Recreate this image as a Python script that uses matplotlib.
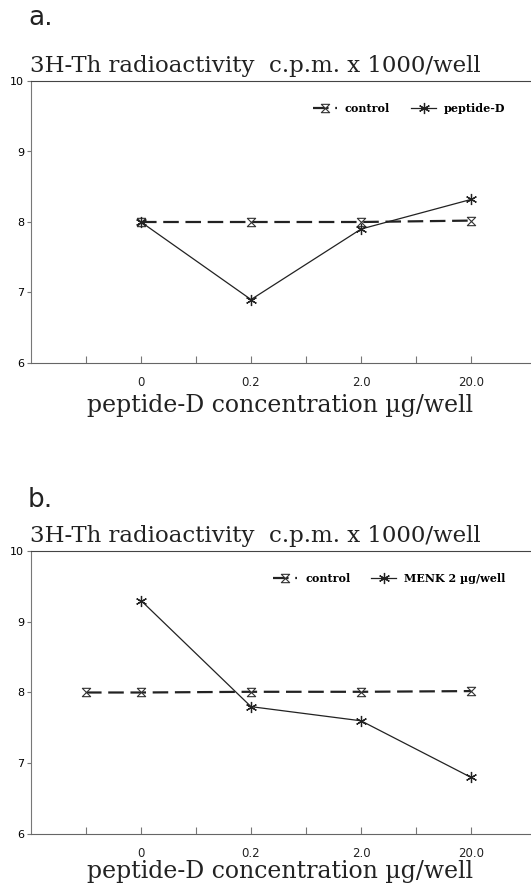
import matplotlib
matplotlib.use("Agg")
import matplotlib.pyplot as plt
from matplotlib.path import Path

# data
concentrations = ["0", "0.2", "2.0", "20.0"]

# panel a
control_a_x = [0, 1, 2, 3]
control_a = [8.0, 8.0, 8.0, 8.02]
peptide_x = [0, 1, 2, 3]
peptide_d = [8.0, 6.9, 7.9, 8.32]

# panel b
control_b_x = [-0.5, 0, 1, 2, 3]
control_b = [8.0, 8.0, 8.01, 8.01, 8.02]
menk_x = [0, 1, 2, 3]
menk = [9.3, 7.8, 7.6, 6.8]

ylabel_text = "3H-Th radioactivity  c.p.m. x 1000/well"
xlabel_text = "peptide-D concentration \u00b5g/well"

hourglass = Path([(-1, 1), (1, 1), (-1, -1), (1, -1), (-1, 1)],
                 [Path.MOVETO, Path.LINETO, Path.LINETO, Path.LINETO, Path.CLOSEPOLY])

W, H = 531, 888
fig = plt.figure(figsize=(W / 100, H / 100), dpi=100)


def px(x, y):
    return x / W, 1 - y / H


def panel(top, bottom, cx, cy, sx, sy, slabel, letter, title_y, xlab_y, letter_y):
    l, b = px(31, bottom)
    _, t = px(31, top)
    ax = fig.add_axes([l, b, 1 - l, t - b])
    ax.plot(cx, cy, color="#222222", lw=1.6, ls=(0, (7, 3)),
            marker=hourglass, ms=6, mfc="white", mec="#333333", mew=0.8,
            label="control")
    ax.plot(sx, sy, color="#222222", lw=0.9, marker=(6, 2, 0), ms=8,
            mec="#222222", mew=0.9, label=slabel)
    ax.set_xlim(-1, 3.545)
    ax.set_ylim(6, 10)
    ax.set_xticks([-0.5, 0, 0.5, 1, 1.5, 2, 2.5, 3])
    ax.set_xticklabels(["", concentrations[0], "", concentrations[1], "",
                        concentrations[2], "", concentrations[3]],
                       fontsize=8.5, family="DejaVu Sans", color="#222222")
    ax.tick_params(axis="x", direction="in", length=5, color="#777777", pad=9)
    ax.set_yticks([6, 7, 8, 9, 10])
    ax.tick_params(axis="y", direction="out", length=3, color="#777777",
                   labelsize=8, pad=2)
    ax.spines["right"].set_visible(False)
    ax.spines["left"].set_color("#777777")
    ax.spines["bottom"].set_color("#666666")
    ax.spines["top"].set_color("#444444")
    ax.legend(loc="center right", bbox_to_anchor=(0.948, 0.904), ncol=2,
              frameon=False, handlelength=2.2, handletextpad=0.7,
              columnspacing=1.9, borderaxespad=0, borderpad=0,
              prop={"family": "DejaVu Serif", "weight": "bold", "size": 8})
    fig.text(*px(30, title_y), ylabel_text, fontsize=16.5, family="DejaVu Serif",
             va="baseline", ha="left", color="#222222")
    fig.text(*px(280, xlab_y), xlabel_text, fontsize=17, family="DejaVu Serif",
             va="baseline", ha="center", color="#222222")
    fig.text(*px(28, letter_y), letter, fontsize=19, family="DejaVu Sans",
             va="baseline", ha="left", color="#222222")
    return ax


panel(81, 363, control_a_x, control_a, peptide_x, peptide_d, "peptide-D",
      "a.", 72, 412, 25)
panel(551, 834, control_b_x, control_b, menk_x, menk, "MENK 2 \u00b5g/well",
      "b.", 542, 878, 507)

fig.savefig("out.png", dpi=100, facecolor="white")
